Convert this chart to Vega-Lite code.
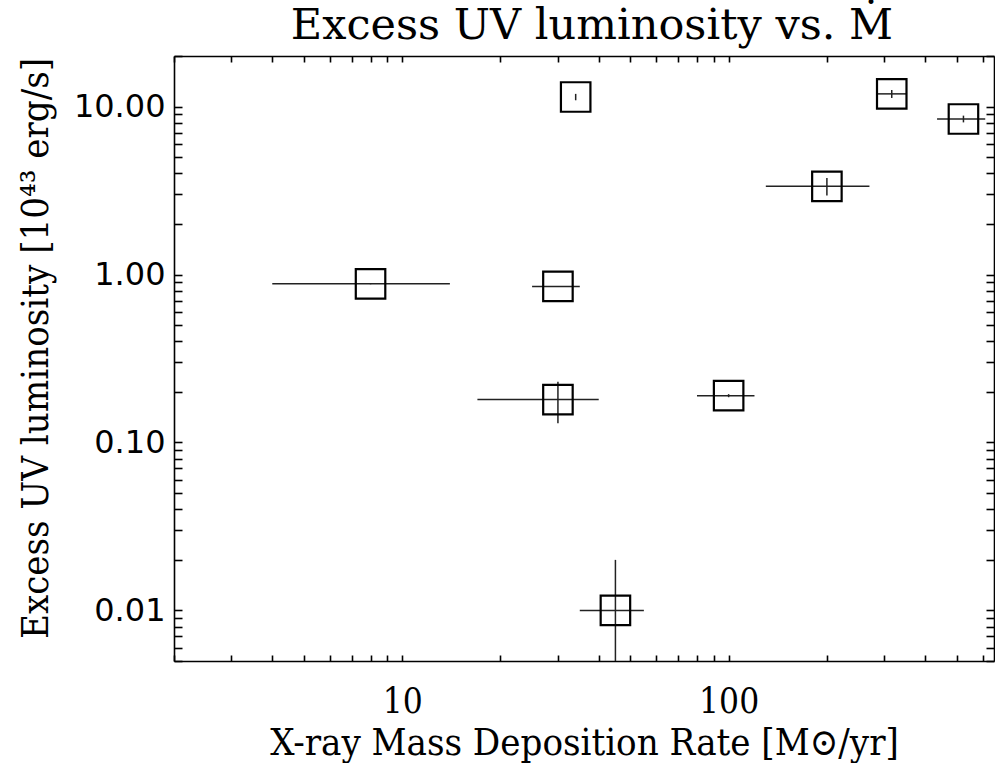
{
  "$schema": "https://vega.github.io/schema/vega-lite/v6.json",
  "width": 820,
  "height": 605,
  "autosize": {"type": "none"},
  "padding": {"left": 174, "top": 56, "right": 1, "bottom": 102},
  "background": "white",
  "title": {
    "text": "Excess UV luminosity vs. Ṁ",
    "font": "DejaVu Serif",
    "fontSize": 43,
    "fontWeight": "normal",
    "color": "black",
    "anchor": "middle",
    "offset": -8,
    "frame": "group",
    "dx": 8
  },
  "config": {
    "view": {"stroke": null},
    "axis": {"grid": false}
  },
  "data": {
    "values": [
      {"x": 8, "xlo": 4, "xhi": 14, "y": 0.88, "ylo": 0.875, "yhi": 0.885},
      {"x": 30, "xlo": 25, "xhi": 35, "y": 0.85, "ylo": 0.845, "yhi": 0.855},
      {"x": 30, "xlo": 17, "xhi": 40, "y": 0.18, "ylo": 0.13, "yhi": 0.23},
      {"x": 45, "xlo": 35, "xhi": 55, "y": 0.01, "ylo": 0.005, "yhi": 0.02},
      {"x": 100, "xlo": 80, "xhi": 120, "y": 0.19, "ylo": 0.186, "yhi": 0.194},
      {"x": 200, "xlo": 130, "xhi": 270, "y": 3.35, "ylo": 2.95, "yhi": 3.75},
      {"x": 34, "xlo": 34, "xhi": 34, "y": 11.4, "ylo": 10.9, "yhi": 11.9},
      {"x": 316, "xlo": 285, "xhi": 352, "y": 11.9, "ylo": 11.25, "yhi": 12.55},
      {"x": 524, "xlo": 435, "xhi": 611, "y": 8.43, "ylo": 8.05, "yhi": 8.83}
    ]
  },
  "layer": [
    {
      "mark": {"type": "rule", "clip": true, "stroke": "#222222", "strokeWidth": 1.5},
      "encoding": {
        "x": {
          "field": "xlo", "type": "quantitative",
          "scale": {"type": "log", "domain": [2, 650], "nice": false},
          "axis": {
            "orient": "bottom",
            "title": "X-ray Mass Deposition Rate [M⊙/yr]",
            "tickCount": 30,
            "ticks": true,
            "tickSize": -6,
            "tickWidth": 1.6,
            "tickColor": "black",
            "domainColor": "black",
            "domainWidth": 1.6,
            "labelExpr": "abs(log(datum.value)/LN10 - round(log(datum.value)/LN10)) < 0.001 ? format(datum.value, 'd') : ''",
            "labelFont": "DejaVu Serif Condensed",
            "labelFontSize": 35,
            "labelColor": "black",
            "labelPadding": 29,
            "labelOverlap": false,
            "labelFlush": false,
            "labelBound": false,
            "titleFont": "DejaVu Serif Condensed",
            "titleFontSize": 38,
            "titleFontWeight": "normal",
            "titleColor": "black",
            "titleBaseline": "alphabetic",
            "titleY": 93,
            "encode": {"ticks": {"update": {"y2": {"signal": "abs(log(datum.value)/LN10 - round(log(datum.value)/LN10)) < 0.001 ? -12 : -6"}}}}
          }
        },
        "x2": {"field": "xhi"},
        "y": {
          "field": "y", "type": "quantitative",
          "scale": {"type": "log", "domain": [0.005, 20], "nice": false},
          "axis": {
            "orient": "left",
            "title": "Excess UV luminosity [10⁴³ erg/s]",
            "tickCount": 30,
            "ticks": true,
            "tickSize": -8,
            "tickWidth": 1.6,
            "tickColor": "black",
            "domainColor": "black",
            "domainWidth": 1.6,
            "labelExpr": "abs(log(datum.value)/LN10 - round(log(datum.value)/LN10)) < 0.001 ? format(datum.value, '.2f') : ''",
            "labelFont": "DejaVu Sans",
            "labelFontSize": 32,
            "labelColor": "black",
            "labelPadding": 17,
            "labelOverlap": false,
            "labelFlush": false,
            "labelBound": false,
            "titleFont": "DejaVu Serif Condensed",
            "titleFontSize": 38,
            "titleFontWeight": "normal",
            "titleColor": "black",
            "titleBaseline": "alphabetic",
            "titleX": -127,
            "titleY": 292,
            "encode": {"ticks": {"update": {"x2": {"signal": "abs(log(datum.value)/LN10 - round(log(datum.value)/LN10)) < 0.001 ? 16.4 : 8.2"}}}}
          }
        }
      }
    },
    {
      "mark": {"type": "rule", "clip": true, "stroke": "#222222", "strokeWidth": 1.5},
      "encoding": {
        "x": {"field": "x", "type": "quantitative", "scale": {"type": "log", "domain": [2, 650], "nice": false}, "axis": null},
        "y": {"field": "ylo", "type": "quantitative", "scale": {"type": "log", "domain": [0.005, 20], "nice": false}, "axis": null},
        "y2": {"field": "yhi"}
      }
    },
    {
      "mark": {"type": "point", "shape": "square", "size": 870, "filled": false, "stroke": "black", "strokeWidth": 2.2, "opacity": 1, "clip": true},
      "encoding": {
        "x": {
          "field": "x", "type": "quantitative",
          "scale": {"type": "log", "domain": [2, 650], "nice": false},
          "axis": {
            "orient": "top",
            "title": null,
            "labels": false,
            "tickCount": 30,
            "ticks": true,
            "tickSize": -6,
            "tickWidth": 1.6,
            "tickColor": "black",
            "domainColor": "black",
            "domainWidth": 1.6,
            "encode": {"ticks": {"update": {"y2": {"signal": "abs(log(datum.value)/LN10 - round(log(datum.value)/LN10)) < 0.001 ? 12 : 6"}}}}
          }
        },
        "y": {
          "field": "y", "type": "quantitative",
          "scale": {"type": "log", "domain": [0.005, 20], "nice": false},
          "axis": {
            "orient": "right",
            "title": null,
            "labels": false,
            "tickCount": 30,
            "ticks": true,
            "tickSize": -8,
            "tickWidth": 1.6,
            "tickColor": "black",
            "domainColor": "black",
            "domainWidth": 1.6,
            "encode": {"ticks": {"update": {"x2": {"signal": "abs(log(datum.value)/LN10 - round(log(datum.value)/LN10)) < 0.001 ? -16.4 : -8.2"}}}}
          }
        }
      }
    }
  ],
  "resolve": {"axis": {"x": "independent", "y": "independent"}}
}
